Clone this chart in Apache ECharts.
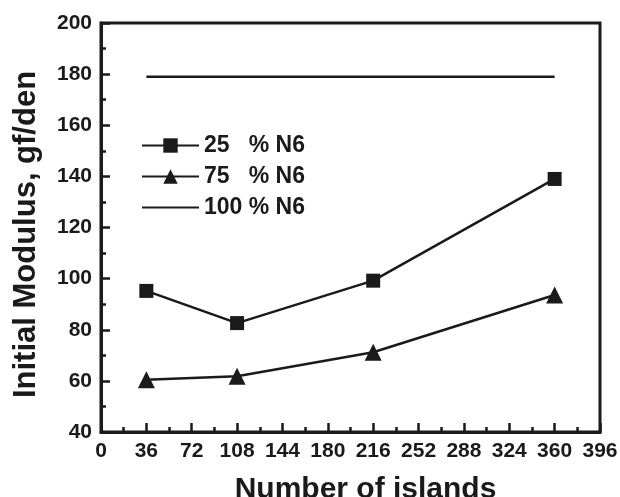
<!DOCTYPE html>
<html><head><meta charset="utf-8">
<script src="https://cdn.jsdelivr.net/npm/echarts@6/dist/echarts.min.js"></script>
<style>html,body{margin:0;padding:0;background:#fff}#c{width:620px;height:497px}</style>
</head><body><div id="c"></div>
<script>
const islands = [36, 108, 216, 360];
const n6_25 = [95.2, 82.6, 99.2, 139];
const n6_75 = [60.4, 61.8, 71.2, 93.6];
const n6_100X = [36, 360];
const n6_100 = [179, 179];
const seriesNames = ['25   % N6', '75   % N6', '100 % N6'];
const FONT = '"Liberation Sans",Arial,sans-serif';
const col = '#1a1a1a';
const chart = echarts.init(document.getElementById('c'));
chart.setOption({
  animation: false,
  grid: {left: 101, right: 20, top: 23, bottom: 65, outerBoundsMode: 'none', containLabel: false,
         show: true, borderColor: col, borderWidth: 3, backgroundColor: 'transparent'},
  legend: {
    orient: 'vertical', left: 136, top: 129, itemWidth: 57, itemHeight: 18, itemGap: 8,
    textStyle: {fontFamily: FONT, fontWeight: 'bold', fontSize: 23, color: col},
    data: [
      {name: seriesNames[0]},
      {name: seriesNames[1]},
      {name: seriesNames[2], itemStyle: {opacity: 0}}
    ]
  },
  xAxis: {
    type: 'value', min: 0, max: 396, interval: 36,
    name: 'Number of islands', nameLocation: 'middle', nameGap: 43,
    nameTextStyle: {fontFamily: FONT, fontWeight: 'bold', fontSize: 30, color: col, padding: [0, 0, 0, 30]},
    axisLine: {lineStyle: {color: col, width: 3}},
    axisTick: {inside: true, length: 9, lineStyle: {color: col, width: 2.5}},
    minorTick: {show: true, splitNumber: 2, length: 5, lineStyle: {color: col, width: 2.5}},
    splitLine: {show: false},
    axisLabel: {fontFamily: FONT, fontWeight: 'bold', fontSize: 21, color: col, margin: 9}
  },
  yAxis: {
    type: 'value', min: 40, max: 200, interval: 20,
    name: 'Initial Modulus, gf/den', nameLocation: 'middle', nameGap: 59,
    nameTextStyle: {fontFamily: FONT, fontWeight: 'bold', fontSize: 31, color: col, padding: [0, 14, 0, 0]},
    axisLine: {lineStyle: {color: col, width: 3}},
    axisTick: {inside: true, length: 9, lineStyle: {color: col, width: 2.5}},
    minorTick: {show: true, splitNumber: 2, length: 5, lineStyle: {color: col, width: 2.5}},
    splitLine: {show: false},
    axisLabel: {fontFamily: FONT, fontWeight: 'bold', fontSize: 21, color: col, margin: 9}
  },
  series: [
    {name: seriesNames[0], type: 'line', data: islands.map((x, i) => [x, n6_25[i]]),
     symbol: 'rect', symbolSize: 14, itemStyle: {color: col}, lineStyle: {color: col, width: 2.5}},
    {name: seriesNames[1], type: 'line', data: islands.map((x, i) => [x, n6_75[i]]),
     symbol: 'triangle', symbolSize: 17, itemStyle: {color: col}, lineStyle: {color: col, width: 2.5}},
    {name: seriesNames[2], type: 'line', data: n6_100X.map((x, i) => [x, n6_100[i]]),
     symbol: 'none', itemStyle: {color: col}, lineStyle: {color: col, width: 2.5}}
  ]
});
</script></body></html>
